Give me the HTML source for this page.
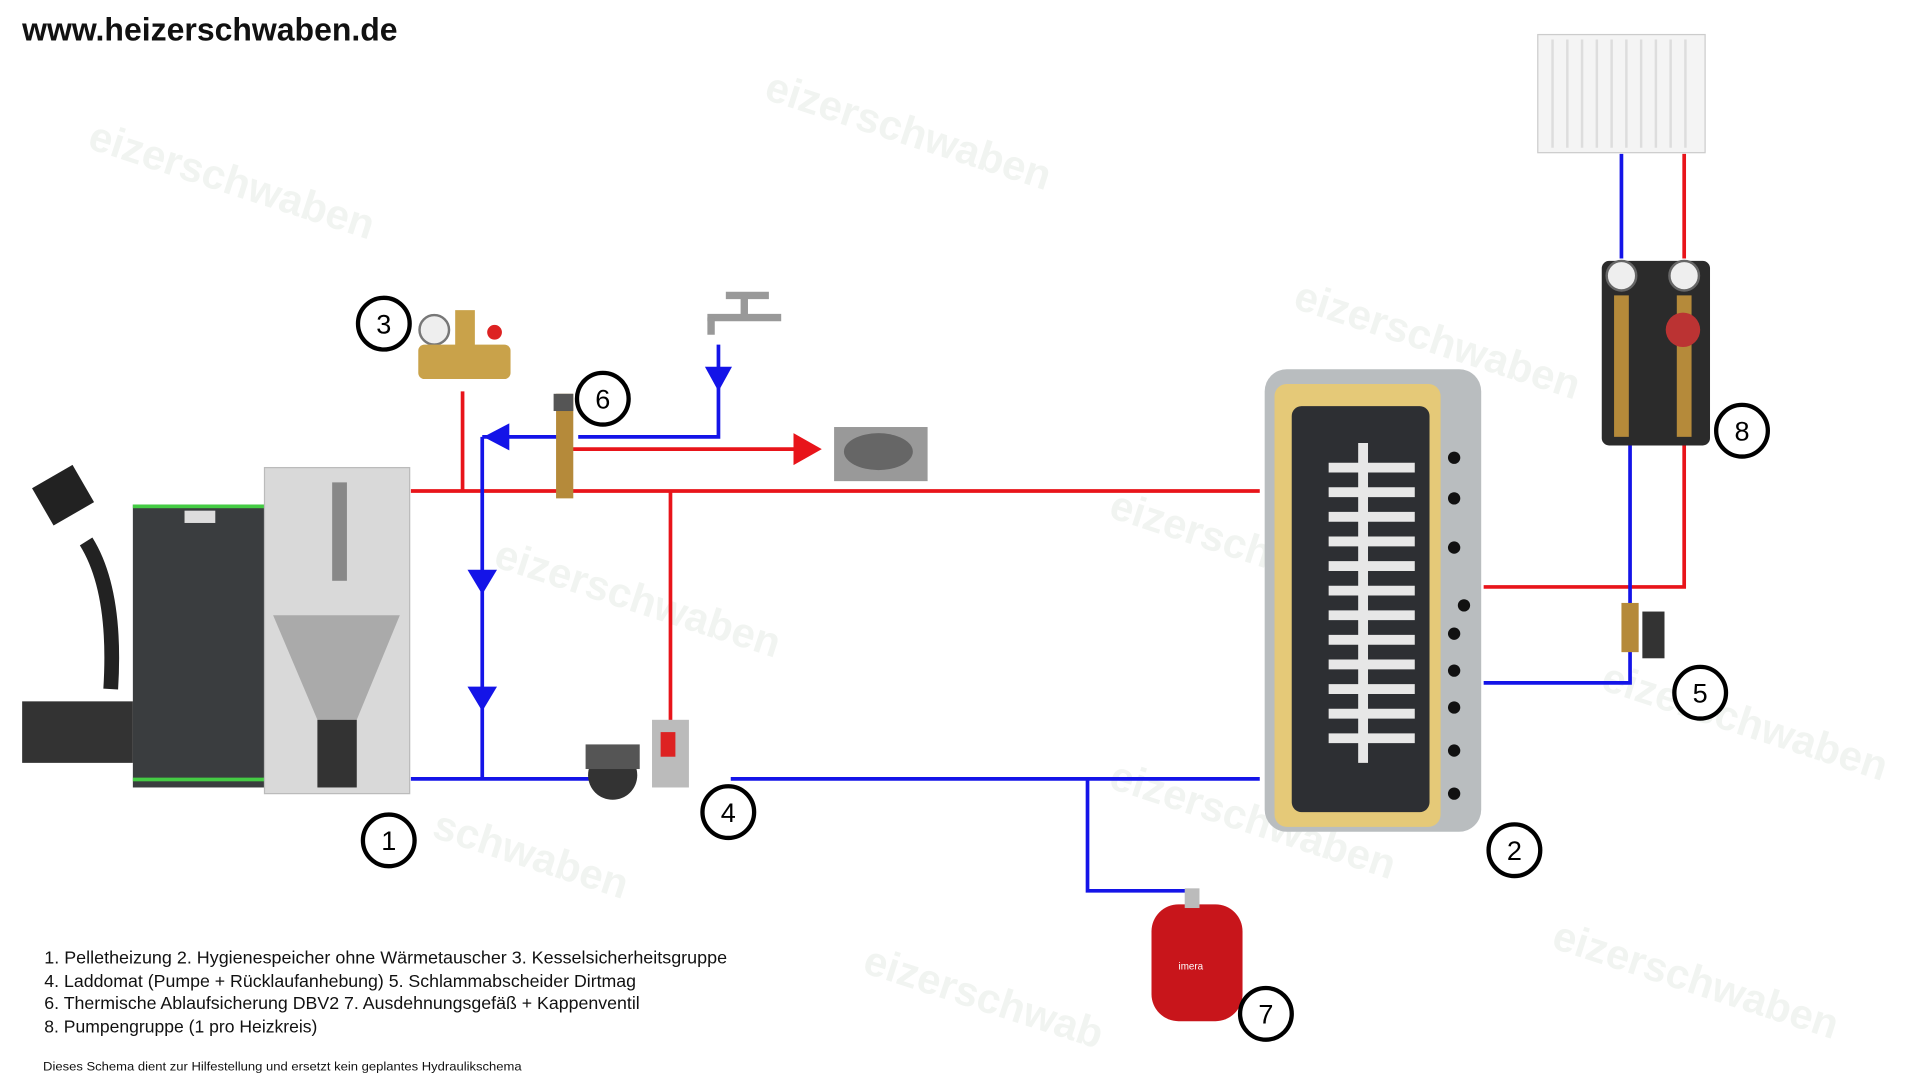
<!DOCTYPE html>
<html><head><meta charset="utf-8"><style>
html,body{margin:0;padding:0;background:#fff;}
svg{display:block;}
text{font-family:"Liberation Sans",sans-serif;}
</style></head><body>
<svg width="1929" height="1089" viewBox="0 0 1568 885" xmlns="http://www.w3.org/2000/svg" xml:space="preserve">
<rect width="1568" height="885" fill="#fff"/>
<!-- watermarks -->
<g fill="#f1f4f1" font-size="34" font-weight="bold">
<text x="70" y="120" transform="rotate(18 70 120)">eizerschwaben</text>
<text x="620" y="80" transform="rotate(18 620 80)">eizerschwaben</text>
<text x="1050" y="250" transform="rotate(18 1050 250)">eizerschwaben</text>
<text x="400" y="460" transform="rotate(18 400 460)">eizerschwaben</text>
<text x="900" y="420" transform="rotate(18 900 420)">eizerschwaben</text>
<text x="1300" y="560" transform="rotate(18 1300 560)">eizerschwaben</text>
<text x="350" y="680" transform="rotate(18 350 680)">schwaben</text>
<text x="900" y="640" transform="rotate(18 900 640)">eizerschwaben</text>
<text x="700" y="790" transform="rotate(18 700 790)">eizerschwab</text>
<text x="1260" y="770" transform="rotate(18 1260 770)">eizerschwaben</text>
</g>
<text x="18" y="33" font-size="26" font-weight="bold" fill="#111">www.heizerschwaben.de</text>

<!-- pipes red -->
<g fill="none" stroke="#e8141a" stroke-width="3">
<path d="M334 399 H1024"/>
<path d="M376 318 V399"/>
<path d="M545 399 V590"/>
<path d="M460 365 H650"/>
<path d="M1206 477 H1369 V360"/>
<path d="M1369 125 V210"/>
</g>
<polygon points="645,352 668,365 645,378" fill="#e8141a"/>
<!-- pipes blue -->
<g fill="none" stroke="#1414e8" stroke-width="3">
<path d="M334 633 H480"/>
<path d="M594 633 H1024"/>
<path d="M392 355 V633"/>
<path d="M392 355 H455"/>
<path d="M470 355 H584 V280"/>
<path d="M884 633 V724 H970"/>
<path d="M1206 555 H1325 V360"/>
<path d="M1318 125 V210"/>
</g>
<g fill="#1414e8">
<polygon points="380,463 404,463 392,483"/>
<polygon points="380,558 404,558 392,578"/>
<polygon points="573,298 595,298 584,318"/>
<polygon points="393,355 414,344 414,366"/>
</g>

<!-- boiler -->
<rect x="108" y="410" width="108" height="230" fill="#3a3d3f"/>
<rect x="108" y="410" width="108" height="3" fill="#4c4"/>
<rect x="108" y="632" width="108" height="3" fill="#4c4"/>
<rect x="150" y="415" width="25" height="10" fill="#ddd"/>
<rect x="215" y="380" width="118" height="265" fill="#d9d9d9" stroke="#bbb"/>
<rect x="270" y="392" width="12" height="80" fill="#888"/>
<polygon points="222,500 325,500 290,585 258,585" fill="#aaa"/>
<rect x="258" y="585" width="32" height="55" fill="#333"/>
<rect x="18" y="570" width="90" height="50" fill="#333"/>
<rect x="32" y="385" width="38" height="35" fill="#222" transform="rotate(-30 51 402)"/>
<path d="M70 440 Q95 480 90 560" stroke="#222" stroke-width="12" fill="none"/>

<!-- safety group 3 -->
<circle cx="353" cy="268" r="12" fill="#eee" stroke="#777" stroke-width="2"/>
<rect x="340" y="280" width="75" height="28" rx="5" fill="#c9a24a"/>
<rect x="370" y="252" width="16" height="30" fill="#c9a24a"/>
<circle cx="402" cy="270" r="6" fill="#d22"/>
<!-- valve 6 -->
<rect x="452" y="320" width="14" height="85" fill="#b58a3a"/>
<rect x="450" y="320" width="16" height="14" fill="#555"/>
<!-- tap -->
<path d="M575 258 H635 M590 240 H625 M605 240 V258" stroke="#999" stroke-width="6" fill="none"/>
<path d="M578 258 V272" stroke="#999" stroke-width="6"/>
<!-- drain -->
<rect x="678" y="347" width="76" height="44" fill="#999"/>
<ellipse cx="714" cy="367" rx="28" ry="15" fill="#666"/>
<!-- pump 4 -->
<circle cx="498" cy="630" r="20" fill="#333"/>
<rect x="476" y="605" width="44" height="20" fill="#555"/>
<rect x="530" y="585" width="30" height="55" fill="#bbb"/>
<rect x="537" y="595" width="12" height="20" fill="#d22"/>

<!-- storage tank -->
<rect x="1028" y="300" width="176" height="376" rx="18" fill="#b9bdbf"/>
<rect x="1036" y="312" width="135" height="360" rx="10" fill="#e5c978"/>
<rect x="1050" y="330" width="112" height="330" rx="8" fill="#2d2f33"/>
<g stroke="#e7e7e7" stroke-width="8" fill="none">
<path d="M1080 380 H1150 M1080 400 H1150 M1080 420 H1150 M1080 440 H1150 M1080 460 H1150 M1080 480 H1150 M1080 500 H1150 M1080 520 H1150 M1080 540 H1150 M1080 560 H1150 M1080 580 H1150 M1080 600 H1150"/>
<path d="M1108 360 V620"/>
</g>
<g fill="#111"><circle cx="1182" cy="372" r="5"/><circle cx="1182" cy="405" r="5"/><circle cx="1182" cy="445" r="5"/><circle cx="1182" cy="515" r="5"/><circle cx="1182" cy="545" r="5"/><circle cx="1182" cy="575" r="5"/><circle cx="1182" cy="610" r="5"/><circle cx="1182" cy="645" r="5"/><circle cx="1190" cy="492" r="5"/></g>

<!-- radiator -->
<rect x="1250" y="28" width="136" height="96" fill="#f4f4f4" stroke="#ccc"/>
<g stroke="#ddd" stroke-width="2"><path d="M1262 32 V120 M1274 32 V120 M1286 32 V120 M1298 32 V120 M1310 32 V120 M1322 32 V120 M1334 32 V120 M1346 32 V120 M1358 32 V120 M1370 32 V120"/></g>
<!-- pump group 8 -->
<rect x="1302" y="212" width="88" height="150" rx="6" fill="#2b2b2b"/>
<circle cx="1318" cy="224" r="12" fill="#eee" stroke="#666" stroke-width="2"/>
<circle cx="1369" cy="224" r="12" fill="#eee" stroke="#666" stroke-width="2"/>
<rect x="1312" y="240" width="12" height="115" fill="#b58a3a"/>
<rect x="1363" y="240" width="12" height="115" fill="#b58a3a"/>
<circle cx="1368" cy="268" r="14" fill="#b33"/>
<!-- dirtmag 5 -->
<rect x="1318" y="490" width="14" height="40" fill="#b58a3a"/>
<rect x="1335" y="497" width="18" height="38" fill="#333"/>
<!-- expansion vessel 7 -->
<rect x="936" y="735" width="74" height="95" rx="22" fill="#c8151b"/>
<rect x="963" y="722" width="12" height="16" fill="#bbb"/>
<text x="958" y="788" font-size="8" fill="#fff">imera</text>

<!-- number circles -->
<g fill="#fff" stroke="#000" stroke-width="3.5">
<circle cx="312" cy="263" r="21"/><circle cx="490" cy="324" r="21"/><circle cx="316" cy="683" r="21"/>
<circle cx="592" cy="660" r="21"/><circle cx="1231" cy="691" r="21"/><circle cx="1382" cy="563" r="21"/>
<circle cx="1416" cy="350" r="21"/><circle cx="1029" cy="824" r="21"/>
</g>
<g font-size="22" text-anchor="middle" fill="#000">
<text x="312" y="271">3</text><text x="490" y="332">6</text><text x="316" y="691">1</text>
<text x="592" y="668">4</text><text x="1231" y="699">2</text><text x="1382" y="571">5</text>
<text x="1416" y="358">8</text><text x="1029" y="832">7</text>
</g>

<!-- legend -->
<g font-size="14" fill="#111">
<text x="36" y="783" textLength="555" lengthAdjust="spacingAndGlyphs">1. Pelletheizung   2. Hygienespeicher ohne Wärmetauscher   3. Kesselsicherheitsgruppe</text>
<text x="36" y="802" textLength="481" lengthAdjust="spacingAndGlyphs">4. Laddomat (Pumpe + Rücklaufanhebung) 5. Schlammabscheider Dirtmag</text>
<text x="36" y="820" textLength="484" lengthAdjust="spacingAndGlyphs">6. Thermische Ablaufsicherung DBV2  7. Ausdehnungsgefäß + Kappenventil</text>
<text x="36" y="839" textLength="222" lengthAdjust="spacingAndGlyphs">8. Pumpengruppe (1 pro Heizkreis)</text>
</g>
<text x="35" y="870" font-size="10" fill="#111" textLength="389" lengthAdjust="spacingAndGlyphs">Dieses Schema dient zur Hilfestellung und ersetzt kein geplantes Hydraulikschema</text>
</svg>
</body></html>
